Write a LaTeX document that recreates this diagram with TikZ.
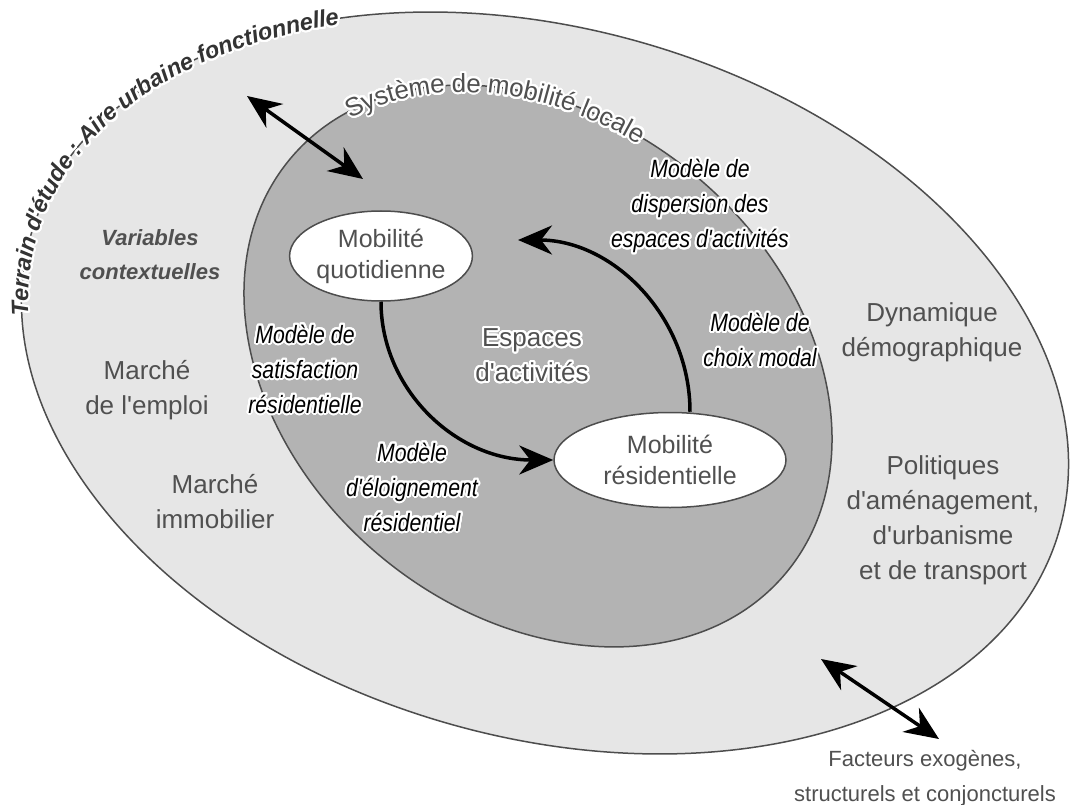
\documentclass[tikz,border=0pt]{standalone}
\usepackage{fontspec}
\setmainfont{Liberation Sans}[Ligatures=TeXOff]
\newfontfamily\narrowfont{Liberation Sans}[FakeStretch=0.85,Ligatures=TeXOff]
\usepackage[copies]{contour}
\contourlength{2pt}
\contournumber{32}
\usetikzlibrary{shapes.geometric,arrows.meta,decorations.text}
\definecolor{outerfill}{HTML}{E6E6E6}
\definecolor{innerfill}{HTML}{B3B3B3}
\definecolor{edge}{HTML}{4D4D4D}
\definecolor{txtgray}{HTML}{505050}
\definecolor{tdark}{HTML}{333333}
\newcommand\halo[1]{\contour{white}{#1}}
\newcommand\halochar[1]{\contour{white}{#1}}
\begin{document}
\begin{tikzpicture}[x=1pt,y=-1pt,
  >={Stealth[length=34pt,width=29pt,inset=11pt]},
  lbl/.style={text=txtgray, align=center, font=\fontsize{26}{35}\selectfont},
  mdl/.style={text=black, align=center, font=\narrowfont\itshape\fontsize{25}{35}\selectfont},
  bubble/.style={ellipse, draw=edge, line width=1.5pt, fill=white, inner sep=0pt, text=txtgray, align=center, font=\fontsize{25}{31}\selectfont},
  link/.style={line width=3.5pt, black}
]
\fill[white] (0,0) rectangle (1071,805);
\useasboundingbox (0,0) rectangle (1071,805);
% outer area
\filldraw[fill=outerfill, draw=edge, line width=1.5pt, rotate around={-16:(545,383)}] (545,383) ellipse[x radius=535, y radius=354];
% inner area
\filldraw[fill=innerfill, draw=edge, line width=1.5pt, rotate around={-40:(538,366)}] (538,366) ellipse[x radius=323, y radius=247];
% text on outer outline
\path[decorate, decoration={text effects along path, text={Terrain d'étude : Aire urbaine fonctionnelle}, raise=-6.5pt, text effects/.cd, text along path, character command=\halochar, every character/.style={text=tdark, font=\bfseries\itshape\fontsize{23.5}{26}\selectfont}}]
 plot[smooth, domain=167:252, samples=50, variable=\t] ({545 + 535*cos(\t)*cos(16) - 354*sin(\t)*sin(16)}, {383 + 535*cos(\t)*sin(16) + 354*sin(\t)*cos(16)});
% text on inner outline
\path[decorate, decoration={text effects along path, text={Système de mobilité locale}, raise=-7pt, text effects/.cd, text along path, character command=\halochar, every character/.style={text=txtgray, font=\fontsize{26}{30}\selectfont}}]
 plot[smooth, domain=197:285, samples=50, variable=\t] ({538 + 323*cos(\t)*cos(40) - 247*sin(\t)*sin(40)}, {366 + 323*cos(\t)*sin(40) + 247*sin(\t)*cos(40)});
% mobility nodes
\node[bubble, minimum width=162pt, minimum height=90pt] (q) at (381,256) {Mobilité\\quotidienne};
\node[bubble, minimum width=232pt, minimum height=95pt] (r) at (670,460) {Mobilité\\résidentielle};
\coordinate (tq) at (518,240);
\draw[link,->] (q.south) .. controls +(0,87) and +(-98,0) .. (r.west);
\draw[link,->] ([xshift=20pt]r.north) .. controls +(0,-95) and +(95,0) .. (tq);
% exchange arrows
\coordinate (d1) at (247,96);
\coordinate (d2) at (363,179);
\draw[link,<->] (d1) -- (d2);
\coordinate (e1) at (821,659);
\coordinate (e2) at (939,739);
\draw[link,<->] (e1) -- (e2);
% labels
\node[lbl] (esp) at (532,356) {\halo{Espaces}\\\halo{d'activités}};
\node[mdl] (m1) at (700,207) {\halo{Modèle de}\\\halo{dispersion des}\\\halo{espaces d'activités}};
\node[mdl] (m2) at (760,341) {\halo{Modèle de}\\\halo{choix modal}};
\node[mdl] (m3) at (305,370) {\halo{Modèle de}\\\halo{satisfaction}\\\halo{résidentielle}};
\node[mdl] (m4) at (412,488) {\halo{Modèle}\\\halo{d'éloignement}\\\halo{résidentiel}};
\node[lbl, font=\bfseries\itshape\fontsize{22}{34}\selectfont] (var) at (150,255) {Variables\\contextuelles};
\node[lbl] (me) at (147,390) {Marché\\de l'emploi};
\node[lbl] (mi) at (215,502) {Marché\\immobilier};
\node[lbl] (dd) at (932,332) {Dynamique\\démographique};
\node[lbl] (pol) at (943,520) {Politiques\\d'aménagement,\\d'urbanisme\\et de transport};
\node[lbl, font=\fontsize{22}{35}\selectfont] (fac) at (925,778) {Facteurs exogènes,\\structurels et conjoncturels};
\end{tikzpicture}
\end{document}
